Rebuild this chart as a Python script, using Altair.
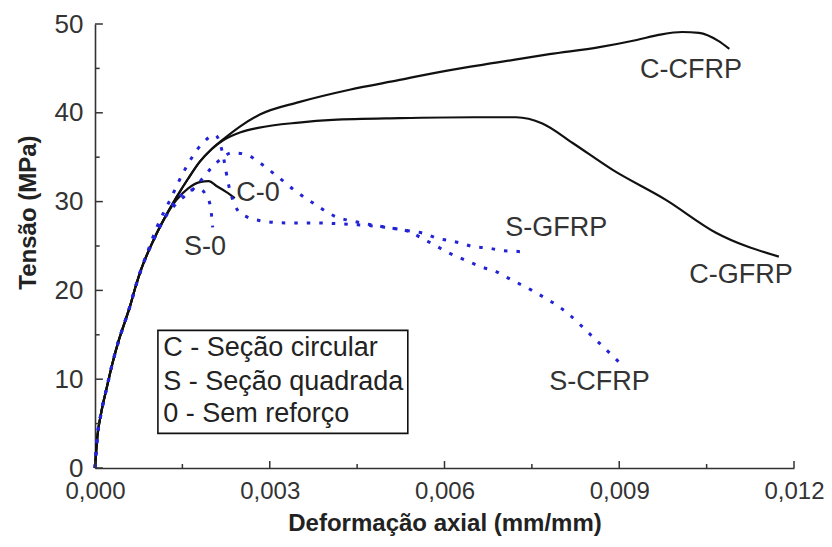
import altair as alt
import pandas as pd

# ---------------- data ----------------
common_x = [0.0, 0.00004, 0.0001, 0.0002, 0.0003, 0.0004, 0.0005, 0.0006, 0.0007, 0.0008, 0.001, 0.0012]
common_y = [0.0, 3.5, 6.0, 9.0, 11.8, 14.2, 16.2, 18.2, 20.5, 22.5, 25.6, 28.2]

c_cfrp_x = [0.0014, 0.0016, 0.0018, 0.002, 0.0022, 0.0025, 0.00283, 0.0035, 0.00437, 0.00523, 0.006, 0.00694,
            0.0078, 0.00866, 0.0093, 0.0097, 0.01008, 0.01037, 0.0107, 0.01089]
c_cfrp_y = [30.5, 32.6, 34.5, 35.9, 37.0, 38.5, 39.8, 41.2, 42.6, 43.7, 44.7, 45.7, 46.6, 47.4, 48.2, 48.8,
            49.1, 49.0, 48.1, 47.2]

c_gfrp_x = [0.0014, 0.0016, 0.0018, 0.002, 0.0022, 0.0025, 0.0028, 0.0035, 0.00408, 0.00523, 0.0065, 0.00723,
            0.00768, 0.0082, 0.00888, 0.0098, 0.01066, 0.01174]
c_gfrp_y = [30.5, 32.6, 34.5, 35.9, 36.9, 37.8, 38.3, 38.9, 39.2, 39.4, 39.5, 39.5, 38.8, 36.6, 33.6, 30.2, 26.5, 23.8]

c_0_x = [0.0014, 0.0016, 0.0018, 0.00195, 0.0021, 0.00225, 0.0024]
c_0_y = [30.2, 31.5, 32.2, 32.3, 31.7, 31.1, 30.4]

s_0_x = [0.0014, 0.0016, 0.0018, 0.0019, 0.00197, 0.002, 0.00202]
s_0_y = [30.2, 31.2, 31.4, 30.8, 29.8, 28.5, 27.1]

s_gfrp_x = [0.0009, 0.00106, 0.00129, 0.00151, 0.00185, 0.00206, 0.00215, 0.00222, 0.00228, 0.00236, 0.00245,
            0.0026, 0.0028, 0.0033, 0.0038, 0.0042, 0.0045, 0.005, 0.0054, 0.00566, 0.00586, 0.00609, 0.00629,
            0.00651, 0.00672, 0.00698, 0.00723, 0.0074]
s_gfrp_y = [24.3, 27.1, 30.2, 33.2, 36.6, 37.5, 36.5, 34.5, 32.3, 30.3, 29.0, 28.3, 27.9, 27.6, 27.6, 27.5, 27.4,
            27.1, 26.7, 26.4, 25.9, 25.6, 25.3, 24.9, 24.8, 24.5, 24.4, 24.3]

s_cfrp_x = [0.0014, 0.0017, 0.002, 0.0022, 0.00235, 0.0026, 0.0028, 0.0031, 0.00346, 0.0038, 0.0041, 0.0045,
            0.005, 0.0054, 0.00566, 0.00586, 0.00605, 0.00622, 0.00643, 0.00665, 0.00686, 0.00706, 0.0075,
            0.0081, 0.00854, 0.009]
s_cfrp_y = [29.8, 31.5, 33.8, 35.0, 35.5, 35.3, 34.5, 33.0, 31.1, 29.6, 28.4, 27.7, 27.1, 26.6, 25.7, 25.0,
            24.3, 23.8, 23.2, 22.6, 22.2, 21.5, 20.0, 17.5, 14.8, 11.9]

label_text = ["C-CFRP", "C-GFRP", "C-0", "S-0", "S-GFRP", "S-CFRP"]
label_x = [0.01023, 0.01109, 0.0028, 0.00189, 0.00792, 0.00866]
label_y = [44.8, 21.7, 31.0, 24.9, 27.0, 9.7]

legend_lines = ["C - Seção circular", "S - Seção quadrada", "0 - Sem reforço"]
legend_line_y = [13.5, 9.7, 6.1]
legend_text_x = 0.00117
legend_box = {"x": 0.00108, "x2": 0.00537, "y": 15.5, "y2": 3.9}

x_ticks_major = [0.0, 0.003, 0.006, 0.009, 0.012]
x_ticks_minor = [0.0015, 0.0045, 0.0075, 0.0105]
y_ticks_major = [0, 10, 20, 30, 40, 50]
y_ticks_minor = [5, 15, 25, 35, 45]

# ---------------- tables ----------------
def series_rows(name, xs, ys, with_common=True):
    rows = []
    pts = []
    if with_common:
        pts += [(x, y) for x, y in zip(common_x, common_y) if x < xs[0]]
    pts += list(zip(xs, ys))
    for i, (x, y) in enumerate(pts):
        rows.append({"series": name, "i": i, "x": x, "y": y})
    return rows

c_rows = (series_rows("C-CFRP", c_cfrp_x, c_cfrp_y) + series_rows("C-GFRP", c_gfrp_x, c_gfrp_y)
          + series_rows("C-0", c_0_x, c_0_y))
s_rows = (series_rows("S-GFRP", s_gfrp_x, s_gfrp_y) + series_rows("S-CFRP", s_cfrp_x, s_cfrp_y)
          + series_rows("S-0", s_0_x, s_0_y))
c_df = pd.DataFrame(c_rows)
s_df = pd.DataFrame(s_rows)

labels_df = pd.DataFrame({"t": label_text, "x": label_x, "y": label_y})
legend_df = pd.DataFrame({"t": legend_lines, "x": [legend_text_x] * 3, "y": legend_line_y})
box_df = pd.DataFrame([legend_box])

XMAJ, XMIN = 0.79, 0.45          # tick lengths in data units (y)
YMAJ, YMIN = 0.000135, 0.00008   # tick lengths in data units (x)
xt_df = pd.DataFrame({"x": x_ticks_major + x_ticks_minor,
                      "y": [0.0] * 9,
                      "y2": [XMAJ] * 5 + [XMIN] * 4})
yt_df = pd.DataFrame({"y": y_ticks_major + y_ticks_minor,
                      "x": [0.0] * 11,
                      "x2": [YMAJ] * 6 + [YMIN] * 5})

FONT = "Liberation Sans"

xscale = alt.Scale(domain=[0, 0.012], nice=False, zero=False)
yscale = alt.Scale(domain=[0, 50], nice=False)

xaxis = alt.Axis(values=x_ticks_major, labelExpr="replace(format(datum.value, '.3f'), '.', ',')",
                 title="Deformação axial (mm/mm)", titleY=55, titleBaseline="middle",
                 labelPadding=11, labelFlush=False, labelFontSize=24)
yaxis = alt.Axis(values=y_ticks_major, format="d", title="Tensão (MPa)",
                 titleX=-67, titleY=188, titleAngle=270, titleBaseline="middle", titleAlign="center",
                 labelPadding=12, labelFontSize=26)

X = alt.X("x:Q", scale=xscale, axis=xaxis)
Y = alt.Y("y:Q", scale=yscale, axis=yaxis)

black = alt.Chart(c_df).mark_line(color="#111111", strokeWidth=2.2, interpolate="monotone").encode(
    x=X, y=Y, detail="series:N", order="i:Q")

blue = alt.Chart(s_df).mark_line(color="#2323d6", strokeWidth=3, strokeDash=[3.5, 9],
                                 interpolate="monotone").encode(
    x="x:Q", y="y:Q", detail="series:N", order="i:Q")

labels = alt.Chart(labels_df).mark_text(font=FONT, fontSize=27, color="#333333").encode(
    x="x:Q", y="y:Q", text="t:N")

box = alt.Chart(box_df).mark_rect(fill="white", fillOpacity=0, stroke="#111111", strokeWidth=1.6).encode(
    x="x:Q", x2="x2:Q", y="y:Q", y2="y2:Q")

legend_text = alt.Chart(legend_df).mark_text(font=FONT, fontSize=27, color="#222222", align="left",
                                             baseline="middle").encode(x="x:Q", y="y:Q", text="t:N")

xticks = alt.Chart(xt_df).mark_rule(color="#333333", strokeWidth=1.5).encode(
    x="x:Q", y="y:Q", y2="y2:Q")
yticks = alt.Chart(yt_df).mark_rule(color="#333333", strokeWidth=1.5).encode(
    y="y:Q", x="x:Q", x2="x2:Q")

chart = alt.layer(black, blue, xticks, yticks, box, legend_text, labels).properties(
    width=699, height=444,
    autosize=alt.AutoSizeParams(type="none"),
    padding={"left": 87, "top": 16, "right": 30, "bottom": 71},
).configure_view(stroke=None).configure_axis(
    grid=False, domainColor="#333333", domainWidth=1.6, tickSize=0,
    labelFont=FONT, labelColor="#333333",
    titleFont=FONT, titleFontSize=24, titleFontWeight="bold", titleColor="#222222",
)

chart.save("out.html", embed_options={"renderer": "svg", "actions": False})
